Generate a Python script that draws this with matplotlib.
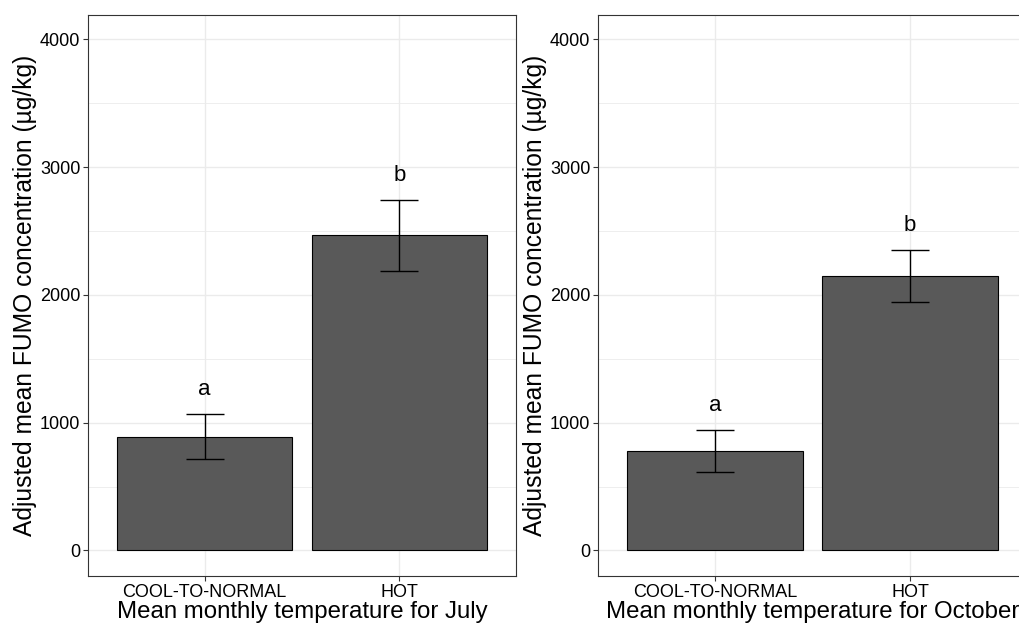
import numpy as np
import matplotlib
matplotlib.use("Agg")
import matplotlib.pyplot as plt
from matplotlib.ticker import MultipleLocator

plt.rcParams['font.family'] = ['Liberation Sans', 'DejaVu Sans']

# data
categories = ['COOL-TO-NORMAL', 'HOT']
july_mean = [890, 2465]
july_lower = [716, 2187]
july_upper = [1068, 2740]
oct_mean = [776, 2148]
oct_lower = [612, 1943]
oct_upper = [940, 2354]
letters = ['a', 'b']
xlabels = ['Mean monthly temperature for July', 'Mean monthly temperature for October']
ylabel = 'Adjusted mean FUMO concentration (µg/kg)'

W, H = 1019, 623
fig = plt.figure(figsize=(W / 100, H / 100), dpi=100)

# axes boxes in pixels: left, top, right, bottom
boxes = [(88, 15, 516, 576), (598, 15, 1027, 576)]
panels = [(july_mean, july_lower, july_upper), (oct_mean, oct_lower, oct_upper)]

for box, (mean, lo, hi), xl in zip(boxes, panels, xlabels):
    l, t, r, b = box
    ax = fig.add_axes([l / W, 1 - b / H, (r - l) / W, (b - t) / H])
    x = np.arange(1, len(categories) + 1)
    mean = np.array(mean)
    lo = np.array(lo)
    hi = np.array(hi)

    ax.bar(x, mean, width=0.9, color='#595959', edgecolor='black', linewidth=0.8, zorder=2)
    ax.errorbar(x, mean, yerr=[mean - lo, hi - mean], fmt='none', ecolor='black',
                elinewidth=1.0, capsize=14, capthick=1.0, zorder=3)
    for xi, yi, s in zip(x, hi, letters):
        ax.annotate(s, (xi, yi), xytext=(0, 10), textcoords='offset points',
                    ha='center', va='bottom', fontsize=16, color='black')

    ax.set_xlim(0.4, 2.6)
    ax.set_ylim(-200, 4190)
    ax.set_xticks(x)
    ax.set_xticklabels(categories)
    ax.yaxis.set_major_locator(MultipleLocator(1000))
    ax.yaxis.set_minor_locator(MultipleLocator(500))
    ax.grid(True, which='major', color='#EBEBEB', linewidth=1.0, zorder=0)
    ax.grid(True, which='minor', axis='y', color='#EBEBEB', linewidth=0.6, zorder=0)
    ax.set_axisbelow(True)
    ax.tick_params(axis='both', which='major', length=3.5, width=0.8, color='#333333',
                   labelsize=13, labelcolor='black', pad=2)
    ax.tick_params(axis='y', which='minor', length=0)
    for sp in ax.spines.values():
        sp.set_color('#333333')
        sp.set_linewidth(0.8)
    ax.set_xlabel(xl, fontsize=17.3, labelpad=0)
    ax.set_ylabel(ylabel, fontsize=17.7, labelpad=2)

fig.savefig('out.png', dpi=100)
